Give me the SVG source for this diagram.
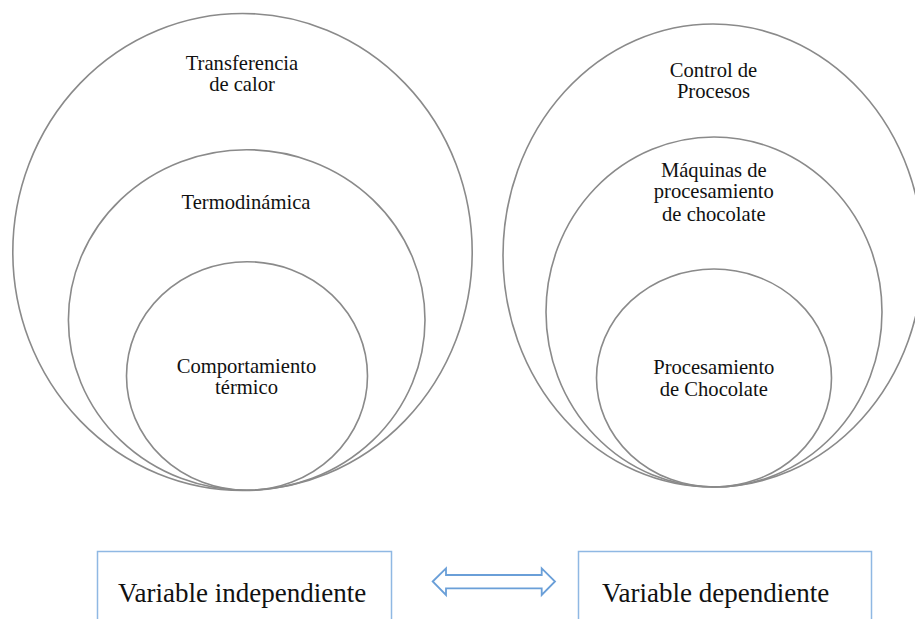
<svg xmlns="http://www.w3.org/2000/svg" width="915" height="619" viewBox="0 0 915 619">
<style>
.c{fill:none;stroke:#8a8a8a;stroke-width:1.6}
.t{font-family:'Liberation Serif','Times New Roman',serif;font-size:20.6px;fill:#111;text-anchor:middle}
.b{font-family:'Liberation Serif','Times New Roman',serif;font-size:27px;fill:#111}
.box{fill:#fff;stroke:#8fb8e3;stroke-width:1.5}
</style>
<rect width="915" height="619" fill="#fff"/>
<g id="left-outer"><ellipse class="c" cx="242.5" cy="252" rx="229.7" ry="238.5"/>
<text class="t" x="242" y="69.5">Transferencia</text><text class="t" x="242" y="91">de calor</text></g>
<g id="left-middle"><ellipse class="c" cx="246.7" cy="320" rx="178.3" ry="170.3"/>
<text class="t" x="246" y="209">Termodinámica</text></g>
<g id="left-inner"><ellipse class="c" cx="247" cy="376" rx="120.5" ry="114.3"/>
<text class="t" x="246.5" y="372.7">Comportamiento</text><text class="t" x="246.5" y="394">térmico</text></g>
<g id="right-outer"><ellipse class="c" cx="713" cy="255.5" rx="210" ry="231.5"/>
<text class="t" x="713.5" y="76.7">Control de</text><text class="t" x="713.5" y="98.3">Procesos</text></g>
<g id="right-middle"><ellipse class="c" cx="714" cy="312" rx="168" ry="175"/>
<text class="t" x="713.8" y="176.7">Máquinas de</text><text class="t" x="713.8" y="198.3">procesamiento</text><text class="t" x="713.8" y="220.7">de chocolate</text></g>
<g id="right-inner"><ellipse class="c" cx="714" cy="378" rx="117.5" ry="109"/>
<text class="t" x="713.8" y="374">Procesamiento</text><text class="t" x="713.8" y="396">de Chocolate</text></g>
<g id="box-independiente"><rect class="box" x="97.5" y="551.5" width="294" height="80"/>
<text class="b" x="118" y="601.5">Variable independiente</text></g>
<g id="box-dependiente"><rect class="box" x="578.5" y="551.5" width="293" height="80"/>
<text class="b" x="602" y="601.5">Variable dependiente</text></g>
<g id="connectors">
<path d="M432.7 581.5 L446 568.3 L446 575 L541.7 575 L541.7 568.3 L555 581.5 L541.7 595 L541.7 588.3 L446 588.3 L446 595 Z" fill="#fff" stroke="#6a9fd8" stroke-width="1.8" stroke-linejoin="miter"/>
</g>
</svg>
